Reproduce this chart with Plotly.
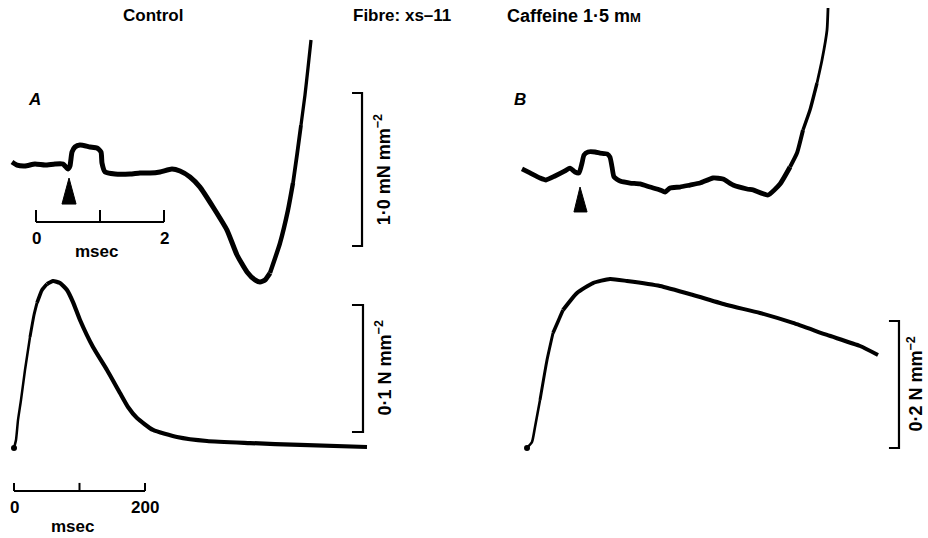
import plotly.graph_objects as go

# ---------------- data ----------------
# Panel A, fast record: time (msec) vs tension (mN mm^-2)
a_fast_t = [-0.375, -0.297, -0.172, -0.016, 0.141, 0.297, 0.422, 0.5, 0.531, 0.5625,
            0.609, 0.6875, 0.844, 0.953, 1.016, 1.031, 1.078, 1.234, 1.469, 1.625,
            1.781, 1.9375, 2.125, 2.25, 2.406, 2.5625, 2.766, 2.984, 3.141, 3.297,
            3.422, 3.5, 3.578, 3.656, 3.8125, 3.9375, 4.016, 4.078, 4.141, 4.203,
            4.25, 4.297]
a_fast_f = [0.072, 0.052, 0.046, 0.059, 0.052, 0.059, 0.059, 0.026, 0.046, 0.137,
            0.170, 0.183, 0.170, 0.163, 0.137, 0.065, 0.007, -0.007, -0.007, 0.0,
            0.0, 0.007, 0.026, 0.013, -0.026, -0.092, -0.222, -0.373, -0.536, -0.647,
            -0.699, -0.712, -0.699, -0.654, -0.458, -0.242, -0.065, 0.118, 0.314, 0.510,
            0.686, 0.869]

# Panel A, twitch: time (msec) vs tension (N mm^-2)
a_slow_t = [0, 3.05, 6.11, 10.69, 16.79, 24.43, 30.53, 35.11, 42.75, 50.38, 59.54,
            70.23, 80.92, 90.08, 100.76, 120.61, 141.98, 161.83, 174.05, 187.79,
            212.21, 248.85, 294.66, 360.31, 436.64, 538.93]
a_slow_f = [0, 0.0063, 0.0220, 0.0378, 0.0614, 0.0874, 0.1047, 0.1142, 0.1244, 0.1291,
            0.1315, 0.1299, 0.1244, 0.1149, 0.1008, 0.0795, 0.0614, 0.0433, 0.0323,
            0.0236, 0.0142, 0.0087, 0.0055, 0.0039, 0.0024, 0.0008]

# Panel B, fast record: time (msec) vs tension (mN mm^-2)
b_fast_t = [-0.391, -0.266, -0.109, -0.016, 0.125, 0.281, 0.359, 0.4375, 0.5, 0.547,
            0.578, 0.641, 0.75, 0.828, 0.9375, 0.984, 1.016, 1.047, 1.141, 1.297,
            1.453, 1.609, 1.766, 1.844, 1.922, 2.078, 2.234, 2.391, 2.594, 2.75,
            2.906, 3.125, 3.219, 3.453, 3.641, 3.797, 3.906, 4.0, 4.109, 4.219,
            4.297, 4.375, 4.391]
b_fast_f = [0.059, 0.033, 0.0, -0.013, 0.013, 0.046, 0.065, 0.039, 0.033, 0.098,
            0.150, 0.170, 0.170, 0.163, 0.157, 0.137, 0.072, 0.007, -0.020, -0.033,
            -0.039, -0.059, -0.078, -0.092, -0.065, -0.059, -0.046, -0.033, 0.0, -0.007,
            -0.046, -0.072, -0.078, -0.111, -0.039, 0.072, 0.163, 0.314, 0.444, 0.621,
            0.771, 0.967, 1.111]

# Panel B, twitch: time (msec) vs tension (N mm^-2)
b_slow_t = [0, 7.63, 12.21, 19.85, 30.53, 39.69, 54.96, 76.34, 100.76, 126.72,
            152.67, 203.05, 253.44, 305.34, 355.73, 406.11, 458.02, 508.40, 535.88]
b_slow_f = [0, 0.0094, 0.0331, 0.0756, 0.1386, 0.1811, 0.2173, 0.2441, 0.2598, 0.2661,
            0.2630, 0.2551, 0.2409, 0.2252, 0.2126, 0.1969, 0.1780, 0.1606, 0.1465]

# stimulus time (msec) marked by the arrowheads
stim_t = 0.516

# scale bars
fast_time_bar = [0, 1, 2]          # msec
fast_time_labels = ["0", "2"]
slow_time_bar = [0, 100, 200]      # msec
slow_time_labels = ["0", "200"]
a_fast_force_bar = 1.0             # mN mm^-2
a_slow_force_bar = 0.1             # N mm^-2
b_slow_force_bar = 0.2             # N mm^-2

# ---------------- figure ----------------
INK = "black"
FONT = "Liberation Sans, Arial, sans-serif"
FS = 17

fig = go.Figure()

def line(x, y, xa, ya, w, shape="linear", smoothing=0.6):
    fig.add_trace(go.Scatter(x=x, y=y, xaxis=xa, yaxis=ya, mode="lines",
                             line=dict(color=INK, width=w, shape=shape, smoothing=smoothing),
                             hoverinfo="skip", showlegend=False))

def pen(x, y, xa, ya, cuts, widths, smoothing=0.5):
    # one pen record drawn in consecutive pieces of tapering stroke width
    bounds = [0] + cuts + [len(x) - 1]
    for i, w in enumerate(widths):
        a, b = bounds[i], bounds[i + 1]
        line(x[a:b + 1], y[a:b + 1], xa, ya, w, "spline", smoothing)

def dot(x, y, xa, ya, size):
    fig.add_trace(go.Scatter(x=[x], y=[y], xaxis=xa, yaxis=ya, mode="markers",
                             marker=dict(color=INK, size=size), hoverinfo="skip",
                             showlegend=False))

def poly(x, y, xa, ya):
    fig.add_trace(go.Scatter(x=x, y=y, xaxis=xa, yaxis=ya, mode="lines", fill="toself",
                             fillcolor=INK, line=dict(color=INK, width=1),
                             hoverinfo="skip", showlegend=False))

def text(s, x, y, xa, ya, size=FS, angle=0, bold=True, italic=False, xanchor="center"):
    if bold:
        s = "<b>" + s + "</b>"
    if italic:
        s = "<i>" + s + "</i>"
    fig.add_annotation(text=s, x=x, y=y, xref=xa, yref=ya, showarrow=False,
                       textangle=angle, xanchor=xanchor, yanchor="middle",
                       font=dict(family=FONT, size=size, color=INK))

# traces
pen(a_fast_t, a_fast_f, "x", "y", [33, 36, 38], [5.0, 4.4, 3.8, 3.3])
pen(b_fast_t, b_fast_f, "x3", "y3", [35, 37, 39], [4.8, 4.0, 3.4, 2.8])
pen(a_slow_t, a_slow_f, "x2", "y2", [5, 7, 9], [2.5, 3.0, 3.6, 4.2])
pen(b_slow_t, b_slow_f, "x4", "y4", [3, 5, 6], [2.6, 3.0, 3.5, 4.0])
dot(a_slow_t[0], a_slow_f[0], "x2", "y2", 6)
dot(b_slow_t[0], b_slow_f[0], "x4", "y4", 6)

# arrowheads (stimulus)
poly([stim_t, stim_t - 0.11, stim_t + 0.11, stim_t], [-0.033, -0.203, -0.203, -0.033], "x", "y")
poly([stim_t, stim_t - 0.095, stim_t + 0.11, stim_t], [-0.059, -0.222, -0.222, -0.059], "x3", "y3")

# --- A fast: time bar
tb_y, tick_h = -0.320, 0.078
line([fast_time_bar[0], fast_time_bar[-1]], [tb_y, tb_y], "x", "y", 2)
for v in fast_time_bar:
    line([v, v], [tb_y, tb_y + tick_h], "x", "y", 2)
text(fast_time_labels[0], fast_time_bar[0], -0.425, "x", "y")
text(fast_time_labels[1], fast_time_bar[-1], -0.425, "x", "y")
text("msec", 0.95, -0.516, "x", "y")

# --- A fast: force bar
fb_t, fb_lo = 5.094, -0.477
line([fb_t - 0.156, fb_t, fb_t, fb_t - 0.156],
     [fb_lo, fb_lo, fb_lo + a_fast_force_bar, fb_lo + a_fast_force_bar], "x", "y", 2.2)
text("1·0 mN mm<sup>−2</sup>", 5.42, fb_lo + a_fast_force_bar / 2, "x", "y", size=18, angle=-90)

# --- A slow: time bar
sb_y, stick_h = -0.0338, 0.0063
line([slow_time_bar[0], slow_time_bar[-1]], [sb_y, sb_y], "x2", "y2", 2)
for v in slow_time_bar:
    line([v, v], [sb_y, sb_y + stick_h], "x2", "y2", 2)
text(slow_time_labels[0], slow_time_bar[0], -0.0472, "x2", "y2")
text(slow_time_labels[1], slow_time_bar[-1], -0.0472, "x2", "y2")
text("msec", 90, -0.0622, "x2", "y2")

# --- A slow: force bar
ab_t, ab_lo = 532.8, 0.0126
line([ab_t - 16.8, ab_t, ab_t, ab_t - 16.8],
     [ab_lo, ab_lo, ab_lo + a_slow_force_bar, ab_lo + a_slow_force_bar], "x2", "y2", 2.2)
text("0·1 N mm<sup>−2</sup>", 564.9, ab_lo + a_slow_force_bar / 2, "x2", "y2", size=18, angle=-90)

# --- B slow: force bar
bb_t, bb_lo = 567.9, 0.0
line([bb_t - 15.3, bb_t, bb_t, bb_t - 15.3],
     [bb_lo, bb_lo, bb_lo + b_slow_force_bar, bb_lo + b_slow_force_bar], "x4", "y4", 2.2)
text("0·2 N mm<sup>−2</sup>", 592.4, bb_lo + b_slow_force_bar / 2, "x4", "y4", size=18, angle=-90)

# titles / panel letters
text("Control", 153 / 928, 1 - 16 / 538, "paper", "paper")
text("Fibre: xs–11", 453 / 928, 1 - 16 / 538, "paper", "paper", xanchor="right")
text("Caffeine 1·5 m<span style='font-size:13px'>M</span>", 574 / 928, 1 - 16 / 538,
     "paper", "paper", size=18)
text("A", 34 / 928, 1 - 100 / 538, "paper", "paper", italic=True)
text("B", 520 / 928, 1 - 100 / 538, "paper", "paper", italic=True)

ax = dict(visible=False, showgrid=False, zeroline=False, fixedrange=True)
fig.update_layout(
    width=928, height=538,
    margin=dict(l=0, r=0, t=0, b=0),
    paper_bgcolor="white", plot_bgcolor="white",
    xaxis=dict(ax, range=[-0.5625, 13.9375], domain=[0, 1]),
    yaxis=dict(ax, range=[-2.3856, 1.1307], domain=[0, 1]),
    xaxis2=dict(ax, range=[-21.37, 1395.4], overlaying="x"),
    yaxis2=dict(ax, range=[-0.07087, 0.35276], overlaying="y"),
    xaxis3=dict(ax, range=[-8.547, 5.953], overlaying="x"),
    yaxis3=dict(ax, range=[-2.353, 1.1634], overlaying="y"),
    xaxis4=dict(ax, range=[-804.6, 612.2], overlaying="x"),
    yaxis4=dict(ax, range=[-0.14173, 0.70551], overlaying="y"),
    showlegend=False,
)

fig.write_html("out.html", config={"staticPlot": True},
               post_script="document.body.style.margin='0';document.body.style.padding='0';")
